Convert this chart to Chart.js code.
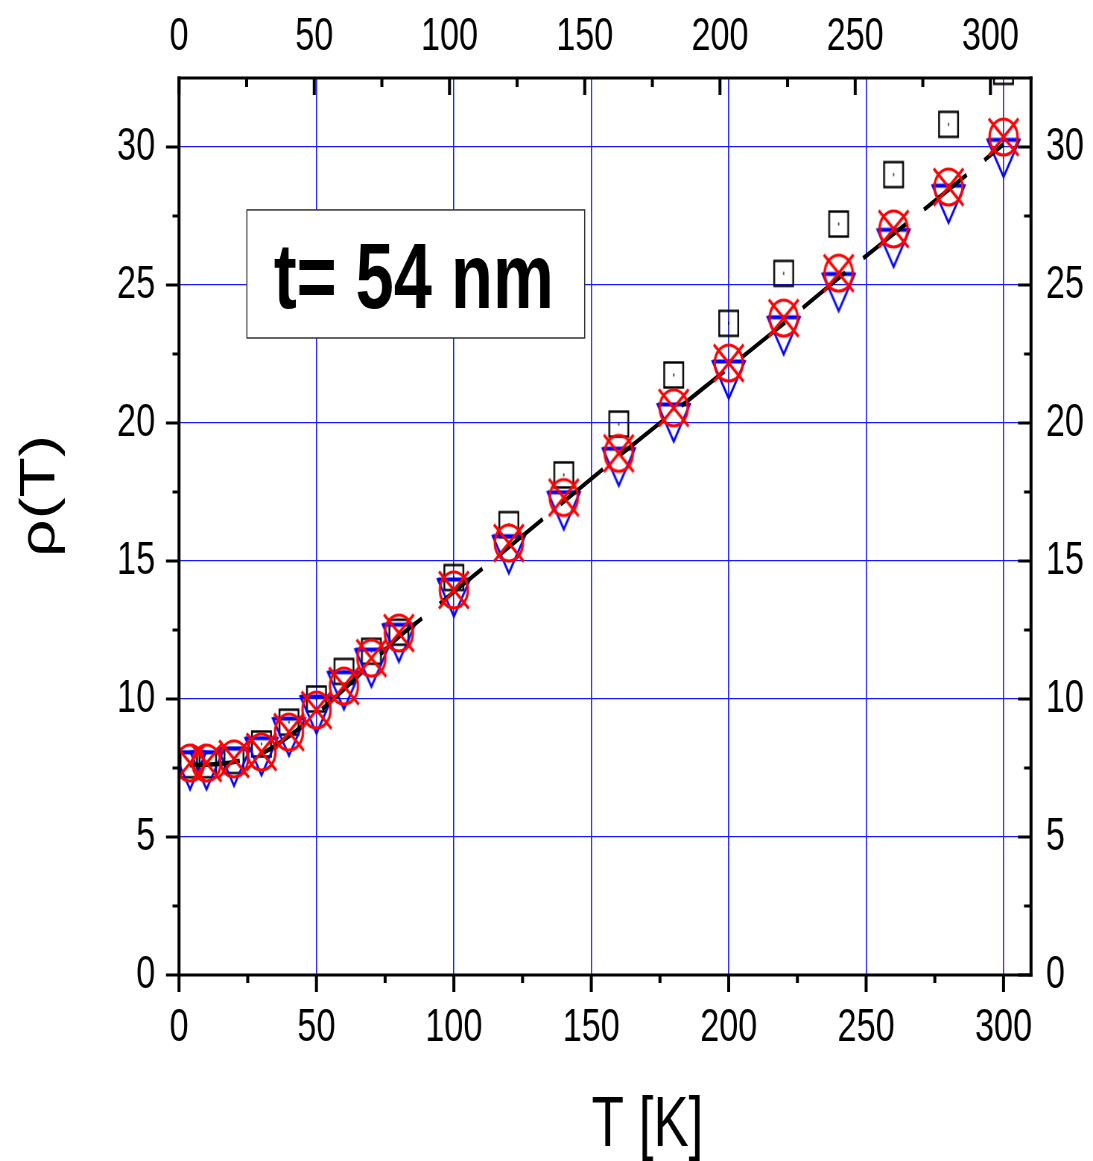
<!DOCTYPE html>
<html>
<head>
<meta charset="utf-8">
<title>rho(T), t = 54 nm</title>
<script src="https://cdn.jsdelivr.net/npm/chart.js@4.4.1/dist/chart.umd.min.js"></script>
<style>
  html, body { margin: 0; padding: 0; background: #fff; }
</style>
</head>
<body>
<!-- drawn 1467 wide and shown 1093 wide: gives the narrow lettering -->
<canvas id="rhoChart" width="1467" height="1161" style="display:block;width:1093px;height:1161px"></canvas>
<script>
// measured temperatures in K
const temps = [4, 10, 20, 30, 40, 50, 60, 70, 80, 100, 120, 140, 160, 180, 200, 220, 240, 260, 280, 300];
// three measurement series
const rhoSquare   = [7.62, 7.62, 7.77, 8.37, 9.16, 10.0, 11.0, 11.73, 12.42, 14.4, 16.32, 18.12, 19.96, 21.74, 23.61, 25.42, 27.21, 29.0, 30.82, 32.74];
const rhoTriangle = [7.4, 7.4, 7.53, 7.91, 8.62, 9.42, 10.3, 11.12, 12.02, 13.66, 15.23, 16.82, 18.4, 20.0, 21.56, 23.16, 24.73, 26.33, 27.93, 29.59];
const rhoCircle   = [7.68, 7.68, 7.83, 8.08, 8.8, 9.6, 10.47, 11.48, 12.39, 13.95, 15.65, 17.3, 18.9, 20.55, 22.17, 23.8, 25.43, 27.03, 28.55, 30.36];
// dashed fit curve
const fitTemps = [4, 10, 20, 30, 40, 50, 60, 70, 80, 90, 100, 120, 140, 160, 180, 200, 220, 240, 260, 280, 300];
const fitRho   = [7.6, 7.62, 7.72, 8.02, 8.65, 9.45, 10.35, 11.3, 12.25, 13.05, 13.88, 15.5, 17.15, 18.8, 20.4, 22.0, 23.6, 25.25, 26.85, 28.45, 30.1];
// axis ticks
const xTickValues = [0, 50, 100, 150, 200, 250, 300];
const yTickValues = [0, 5, 10, 15, 20, 25, 30];

const FONT = '"Liberation Sans", Arial, sans-serif';

const W = 1467, H = 1161, KX = 1093 / W;
const PLOT_LEFT = 179 / KX, PLOT_RIGHT = 1031 / KX;
const PLOT_TOP = 78, PLOT_BOTTOM = 975;

function markerCanvas(w, h) {
  const c = document.createElement('canvas');
  c.width = w; c.height = h;
  return c;
}

function squareMarker() {
  const w = 25.5, h = 25;
  const c = markerCanvas(30, 30);
  const g = c.getContext('2d');
  g.strokeStyle = '#000'; g.lineWidth = 2.4;
  g.strokeRect((c.width - w) / 2, (c.height - h) / 2, w, h);
  g.fillStyle = '#000';
  g.fillRect(c.width / 2 - 0.7, c.height / 2 - 1.5, 1.4, 3);
  return c;
}

function triangleMarker() {
  const w = 43, h = 37;
  const c = markerCanvas(50, 44);
  const g = c.getContext('2d');
  const cx = c.width / 2, y0 = (c.height - h) / 2;
  g.strokeStyle = '#0000ff'; g.lineWidth = 2.7; g.lineJoin = 'miter';
  g.beginPath();
  g.moveTo(cx - w / 2, y0); g.lineTo(cx + w / 2, y0); g.lineTo(cx, y0 + h); g.closePath();
  g.stroke();
  g.lineWidth = 4;
  g.beginPath(); g.moveTo(cx - w / 2, y0); g.lineTo(cx + w / 2, y0); g.stroke();
  return c;
}

function circleCrossMarker() {
  const rx = 18.8, ry = 18;
  const c = markerCanvas(48, 46);
  const g = c.getContext('2d');
  const cx = c.width / 2, cy = c.height / 2;
  g.strokeStyle = '#ff0000'; g.lineWidth = 3.2;
  g.beginPath(); g.ellipse(cx, cy, rx, ry, 0, 0, Math.PI * 2); g.stroke();
  g.beginPath();
  g.moveTo(cx - 20, cy - 18.5); g.lineTo(cx + 20, cy + 18.5);
  g.moveTo(cx + 20, cy - 18.5); g.lineTo(cx - 20, cy + 18.5);
  g.stroke();
  return c;
}

const pts = (xs, ys) => xs.map((x, i) => ({ x: x, y: ys[i] }));

function line(ctx, x1, y1, x2, y2, w) {
  ctx.lineWidth = w;
  ctx.beginPath(); ctx.moveTo(x1, y1); ctx.lineTo(x2, y2); ctx.stroke();
}

// frame, minor/major tick marks, axis titles and the thickness label
const framePlugin = {
  id: 'frame',
  afterDatasetsDraw(chart) {
    const ctx = chart.ctx, a = chart.chartArea;
    const sx = chart.scales.x, sx2 = chart.scales.x2, sy = chart.scales.y;
    const hw = 3, vw = 3 / KX;
    ctx.save();
    ctx.strokeStyle = '#000';
    line(ctx, a.left - vw / 2, a.top, a.right + vw / 2, a.top, hw);
    line(ctx, a.left - vw / 2, a.bottom, a.right + vw / 2, a.bottom, hw);
    line(ctx, a.left, a.top - hw / 2, a.left, a.bottom + hw / 2, vw);
    line(ctx, a.right, a.top - hw / 2, a.right, a.bottom + hw / 2, vw);
    for (let v = 0; v <= 300; v += 25) {
      const major = v % 50 === 0;
      const px = sx.getPixelForValue(v);
      line(ctx, px, a.bottom, px, a.bottom + (major ? 17 : 8), vw);
      const tx = sx2.getPixelForValue(v);
      line(ctx, tx, a.top, tx, a.top + (major ? 17 : 9), vw);
    }
    for (let v = 0; v <= 30; v += 2.5) {
      const major = v % 5 === 0;
      const py = sy.getPixelForValue(v);
      line(ctx, a.left, py, a.left - (major ? 13 : 6.5) / KX, py, hw);
      line(ctx, a.right, py, a.right - (major ? 13 : 7) / KX, py, hw);
    }
    ctx.restore();
  },
  afterDraw(chart) {
    const ctx = chart.ctx;
    const sx = chart.scales.x, sy = chart.scales.y;
    ctx.save();
    // label box
    const l = sx.getPixelForValue(24.7), r = sx.getPixelForValue(147.6);
    const t = sy.getPixelForValue(27.72), b = sy.getPixelForValue(23.08);
    ctx.fillStyle = '#fff';
    ctx.fillRect(l, t, r - l, b - t);
    ctx.strokeStyle = '#333'; ctx.lineWidth = 1.5;
    ctx.strokeRect(l, t, r - l, b - t);
    ctx.fillStyle = '#000';
    ctx.textAlign = 'center'; ctx.textBaseline = 'alphabetic';
    ctx.font = 'bold 92px ' + FONT;
    ctx.fillText('t= 54 nm', (l + r) / 2 - 2 / KX, t + 0.768 * (b - t));
    // axis titles
    ctx.font = '71px ' + FONT;
    ctx.fillText('T [K]', 647.5 / KX, 1146);
    ctx.translate(41 / KX, 496);
    ctx.rotate(-Math.PI / 2);
    ctx.textBaseline = 'middle';
    ctx.font = '66px ' + FONT;
    ctx.fillText('\u03C1(T)', 0, 0);
    ctx.restore();
  }
};

const tickFont = { family: FONT, size: 46 };
const gridBlue = 'rgb(25, 25, 255)';

new Chart(document.getElementById('rhoChart'), {
  type: 'scatter',
  data: {
    datasets: [
      { data: pts(temps, rhoCircle), pointStyle: circleCrossMarker(), pointRadius: 16, showLine: false, clip: 0 },
      { data: pts(fitTemps, fitRho), showLine: true, borderColor: '#000', borderWidth: 4.5,
        borderDash: [67, 28], borderDashOffset: 0, pointRadius: 0, cubicInterpolationMode: 'monotone', clip: 0 },
      { data: pts(temps, rhoTriangle), pointStyle: triangleMarker(), pointRadius: 16, showLine: false, clip: 0 },
      { data: pts(temps, rhoSquare), pointStyle: squareMarker(), pointRadius: 16, showLine: false, clip: 0 }
    ]
  },
  options: {
    responsive: false,
    animation: false,
    events: [],
    layout: { padding: 0 },
    plugins: { legend: { display: false }, tooltip: { enabled: false } },
    scales: {
      x: {
        type: 'linear', position: 'bottom', min: 0, max: 310,
        afterBuildTicks: s => { s.ticks = xTickValues.map(v => ({ value: v })); },
        afterFit: s => { s.height = H - PLOT_BOTTOM; },
        grid: { color: gridBlue, lineWidth: 1.6, drawTicks: false },
        border: { display: false },
        ticks: { font: tickFont, color: '#000', padding: 26, maxRotation: 0 }
      },
      x2: {
        type: 'linear', position: 'top', min: 0, max: 315,
        afterBuildTicks: s => { s.ticks = xTickValues.map(v => ({ value: v })); },
        afterFit: s => { s.height = PLOT_TOP; },
        grid: { display: false, drawTicks: false },
        border: { display: false },
        ticks: { font: tickFont, color: '#000', padding: 13, maxRotation: 0 }
      },
      y: {
        type: 'linear', position: 'left', min: 0, max: 32.5,
        afterBuildTicks: s => { s.ticks = yTickValues.map(v => ({ value: v })); },
        afterFit: s => { s.width = PLOT_LEFT; },
        grid: { color: gridBlue, lineWidth: 1.2, drawTicks: false },
        border: { display: false },
        ticks: { font: tickFont, color: '#000', padding: 32 }
      },
      y2: {
        type: 'linear', position: 'right', min: 0, max: 32.5,
        afterBuildTicks: s => { s.ticks = yTickValues.map(v => ({ value: v })); },
        afterFit: s => { s.width = W - PLOT_RIGHT; },
        grid: { display: false, drawTicks: false },
        border: { display: false },
        ticks: { font: tickFont, color: '#000', padding: 20 }
      }
    }
  },
  plugins: [framePlugin]
});
</script>
</body>
</html>
